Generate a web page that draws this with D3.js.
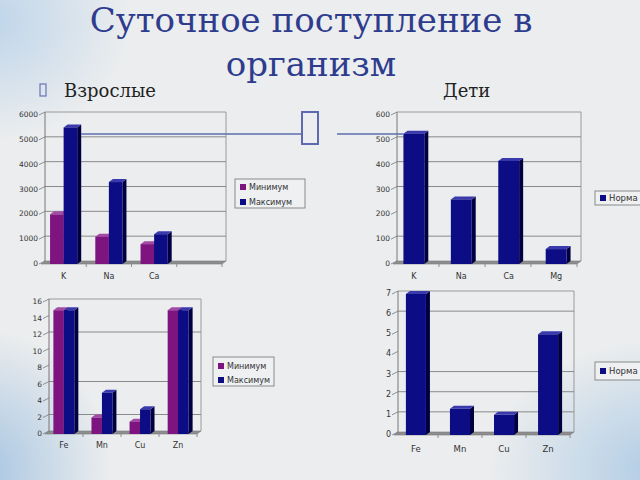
<!DOCTYPE html>
<html><head><meta charset="utf-8">
<script src="https://cdn.jsdelivr.net/npm/d3@7"></script>
<style>html,body{margin:0;padding:0;background:#ebedee;}svg{display:block;}</style>
</head><body>
<script>
// ---------- DATA ----------
const titleLines = ["Суточное поступление в", "организм"];
const groupLabels = ["Взрослые", "Дети"];
const seriesNames = ["Минимум", "Максимум"];
const normName = ["Норма"];

const categoriesA = ["K", "Na", "Ca", ""];
const adultMin = [2000, 1100, 800, null];
const adultMax = [5500, 3300, 1200, null];
const ticksA = [0, 1000, 2000, 3000, 4000, 5000, 6000];
const gridA = [1000, 2000, 3000, 4000, 5000];

const categoriesB = ["K", "Na", "Ca", "Mg"];
const childNorm = [525, 260, 415, 60];
const ticksB = [0, 100, 200, 300, 400, 500, 600];
const gridB = [100, 300, 400, 500];

const categoriesC = ["Fe", "Mn", "Cu", "Zn"];
const microMin = [15, 2, 1.5, 15];
const microMax = [15, 5, 3, 15];
const ticksC = [0, 2, 4, 6, 8, 10, 12, 14, 16];
const gridC = [2, 6, 12];

const categoriesD = ["Fe", "Mn", "Cu", "Zn"];
const childMicro = [7, 1.3, 1, 5];
const ticksD = [0, 1, 2, 3, 4, 5, 6, 7];
const gridD = [1, 2, 3, 6];

// ---------- SETUP ----------
const W = 640, H = 480;
const svg = d3.select("body").append("svg").attr("width", W).attr("height", H);
const defs = svg.append("defs");
function radial(id, color, op) {
  const g = defs.append("radialGradient").attr("id", id);
  g.append("stop").attr("offset", "0%").attr("stop-color", color).attr("stop-opacity", op);
  g.append("stop").attr("offset", "100%").attr("stop-color", color).attr("stop-opacity", 0);
}
radial("gTL", "#b9d2ea", 0.9);
radial("gBL", "#9fc0e0", 0.9);
radial("gBR", "#a9c8e4", 0.9);
svg.append("rect").attr("width", W).attr("height", H).attr("fill", "#ebedee");
svg.append("ellipse").attr("cx", -10).attr("cy", 20).attr("rx", 140).attr("ry", 120).attr("fill", "url(#gTL)");
svg.append("ellipse").attr("cx", -20).attr("cy", 470).attr("rx", 130).attr("ry", 140).attr("fill", "url(#gBL)");
svg.append("ellipse").attr("cx", 660).attr("cy", 470).attr("rx", 170).attr("ry", 130).attr("fill", "url(#gBR)");

// Title
svg.append("g").selectAll("text").data(titleLines).join("text")
  .attr("x", 311).attr("y", (d, i) => 32 + i * 44)
  .attr("text-anchor", "middle")
  .attr("font-family", "DejaVu Serif, serif").attr("font-size", 34)
  .attr("fill", "#2e3c8e").text(d => d);

// Section labels
svg.append("rect").attr("x", 40).attr("y", 84).attr("width", 6).attr("height", 12)
  .attr("fill", "none").attr("stroke", "#6a72b8").attr("stroke-width", 1.2);
svg.append("text").attr("x", 64).attr("y", 97).attr("font-family", "DejaVu Serif, serif")
  .attr("font-size", 18).attr("fill", "#222").text(groupLabels[0]);
svg.append("text").attr("x", 443).attr("y", 97).attr("font-family", "DejaVu Serif, serif")
  .attr("font-size", 18).attr("fill", "#222").text(groupLabels[1]);

const COLORS = {
  min: {front: "#7e1480", side: "#46004a", top: "#a24aa4"},
  max: {front: "#0c0c84", side: "#000040", top: "#3a3aae"}
};
const DX = 4, DY = -3;

function chart(cfg) {
  const g = svg.append("g");
  const {x0, w, yBase, yTopV, domainMax, cats, series, ticks, grid, pi, po, fontSize} = cfg;
  const y = d3.scaleLinear().domain([0, domainMax]).range([yBase, yTopV]);
  const x = d3.scaleBand().domain(d3.range(cats.length)).range([x0, x0 + w]).paddingInner(pi).paddingOuter(po);
  const xs = d3.scaleBand().domain(d3.range(series.length)).range([0, x.bandwidth()]);
  const bx0 = x0 + DX, bx1 = x0 + w + DX;
  g.append("line").attr("x1", bx0).attr("x2", bx1).attr("y1", y(domainMax) + DY).attr("y2", y(domainMax) + DY)
    .attr("stroke", "#9a9a9a").attr("stroke-width", 1);
  g.append("line").attr("x1", bx1).attr("x2", bx1).attr("y1", y(domainMax) + DY).attr("y2", yBase + DY)
    .attr("stroke", "#9a9a9a").attr("stroke-width", 1);
  g.selectAll(".grid").data(grid).join("line")
    .attr("x1", bx0).attr("x2", bx1).attr("y1", d => y(d) + DY).attr("y2", d => y(d) + DY)
    .attr("stroke", "#8a8a8a").attr("stroke-width", 1);
  g.append("line").attr("x1", bx0).attr("x2", bx0).attr("y1", y(domainMax) + DY).attr("y2", yBase + DY)
    .attr("stroke", "#777").attr("stroke-width", 1);
  g.append("path").attr("d", `M${x0},${yBase} L${x0 + w},${yBase} L${bx1},${yBase + DY} L${bx0},${yBase + DY} Z`)
    .attr("fill", "#8e8e8e").attr("stroke", "#7a7a7a").attr("stroke-width", 0.6);
  g.selectAll(".yt").data(ticks).join("line")
    .attr("x1", x0 - 2).attr("x2", bx0).attr("y1", d => y(d)).attr("y2", d => y(d) + DY)
    .attr("stroke", "#777").attr("stroke-width", 0.8);
  g.selectAll(".yl").data(ticks).join("text")
    .attr("x", x0 - 3).attr("y", d => y(d) + 2)
    .attr("text-anchor", "end").attr("font-family", "DejaVu Sans, sans-serif")
    .attr("font-size", fontSize).attr("fill", "#333").text(d => d);
  const bounds = d3.range(1, cats.length + 1).map(i => x0 + w * i / cats.length);
  g.selectAll(".xt").data(bounds).join("line")
    .attr("x1", d => d).attr("x2", d => d).attr("y1", yBase).attr("y2", yBase + 3)
    .attr("stroke", "#777").attr("stroke-width", 0.8);
  g.selectAll(".xl").data(cats).join("text")
    .attr("x", (d, i) => x(i) + x.bandwidth() / 2).attr("y", cfg.labelY)
    .attr("text-anchor", "middle").attr("font-family", "DejaVu Sans, sans-serif")
    .attr("font-size", fontSize + 0.5).attr("fill", "#333").text(d => d);
  series.forEach((s, si) => {
    const col = COLORS[s.color];
    const bw = xs.bandwidth();
    s.values.forEach((v, i) => {
      if (v == null) return;
      const bx = x(i) + xs(si), yv = y(v), yb = yBase;
      g.append("path").attr("d", `M${bx + bw},${yv} L${bx + bw + DX},${yv + DY} L${bx + bw + DX},${yb + DY} L${bx + bw},${yb} Z`)
        .attr("fill", col.side);
      g.append("path").attr("d", `M${bx},${yv} L${bx + DX},${yv + DY} L${bx + bw + DX},${yv + DY} L${bx + bw},${yv} Z`)
        .attr("fill", col.top);
      g.append("rect").attr("x", bx).attr("y", yv).attr("width", bw).attr("height", yb - yv)
        .attr("fill", col.front);
    });
  });
  const L = cfg.legend;
  g.append("rect").attr("x", L.x).attr("y", L.y).attr("width", L.w).attr("height", L.h)
    .attr("fill", "#eef0f1").attr("stroke", "#8a8a8a").attr("stroke-width", 1);
  series.forEach((s, si) => {
    g.append("rect").attr("x", L.x + 5).attr("y", L.y + L.pad + si * L.step - 3)
      .attr("width", 6).attr("height", 6).attr("fill", COLORS[s.color].front);
    g.append("text").attr("x", L.x + 14).attr("y", L.y + L.pad + si * L.step + 3)
      .attr("font-family", "DejaVu Sans, sans-serif").attr("font-size", L.fs).attr("fill", "#333").text(s.name);
  });
  return {x, y, xs};
}

const cA = chart({x0: 41, w: 181, yBase: 264, yTopV: 115, domainMax: 6000, cats: categoriesA,
  series: [{name: seriesNames[0], values: adultMin, color: "min"}, {name: seriesNames[1], values: adultMax, color: "max"}],
  ticks: ticksA, grid: gridA, pi: 0.4, po: 0.2, fontSize: 7.5, labelY: 279,
  legend: {x: 235, y: 179, w: 70, h: 29, pad: 8, step: 15, fs: 8}});

const cB = chart({x0: 393, w: 184, yBase: 264, yTopV: 115, domainMax: 600, cats: categoriesB,
  series: [{name: normName[0], values: childNorm, color: "max"}],
  ticks: ticksB, grid: gridB, pi: 0.56, po: 0.22, fontSize: 7.5, labelY: 279,
  legend: {x: 595, y: 191, w: 55, h: 14, pad: 7, step: 15, fs: 8.5}});

const cC = chart({x0: 45, w: 152, yBase: 434, yTopV: 302, domainMax: 16, cats: categoriesC,
  series: [{name: seriesNames[0], values: microMin, color: "min"}, {name: seriesNames[1], values: microMax, color: "max"}],
  ticks: ticksC, grid: gridC, pi: 0.45, po: 0.22, fontSize: 7.5, labelY: 448,
  legend: {x: 213, y: 357, w: 61, h: 29, pad: 9, step: 14, fs: 8}});

const cD = chart({x0: 394, w: 176, yBase: 435, yTopV: 294, domainMax: 7, cats: categoriesD,
  series: [{name: normName[0], values: childMicro, color: "max"}],
  ticks: ticksD, grid: gridD, pi: 0.545, po: 0.27, fontSize: 8, labelY: 452,
  legend: {x: 595, y: 362, w: 55, h: 18, pad: 9, step: 15, fs: 8.5}});

// connector line across the charts
const lineY = 134;
const kMaxRight = cA.x(0) + cA.xs(1) + cA.xs.bandwidth() + DX;
const kNormLeft = cB.x(0);
svg.append("line").attr("x1", kMaxRight).attr("x2", 301).attr("y1", lineY).attr("y2", lineY)
  .attr("stroke", "#5d6cae").attr("stroke-width", 1.3);
svg.append("line").attr("x1", 337).attr("x2", kNormLeft).attr("y1", lineY).attr("y2", lineY)
  .attr("stroke", "#5d6cae").attr("stroke-width", 1.3);
svg.append("rect").attr("x", 302).attr("y", 112).attr("width", 16).attr("height", 32)
  .attr("fill", "none").attr("stroke", "#5d6ab2").attr("stroke-width", 2);
</script>
</body></html>
